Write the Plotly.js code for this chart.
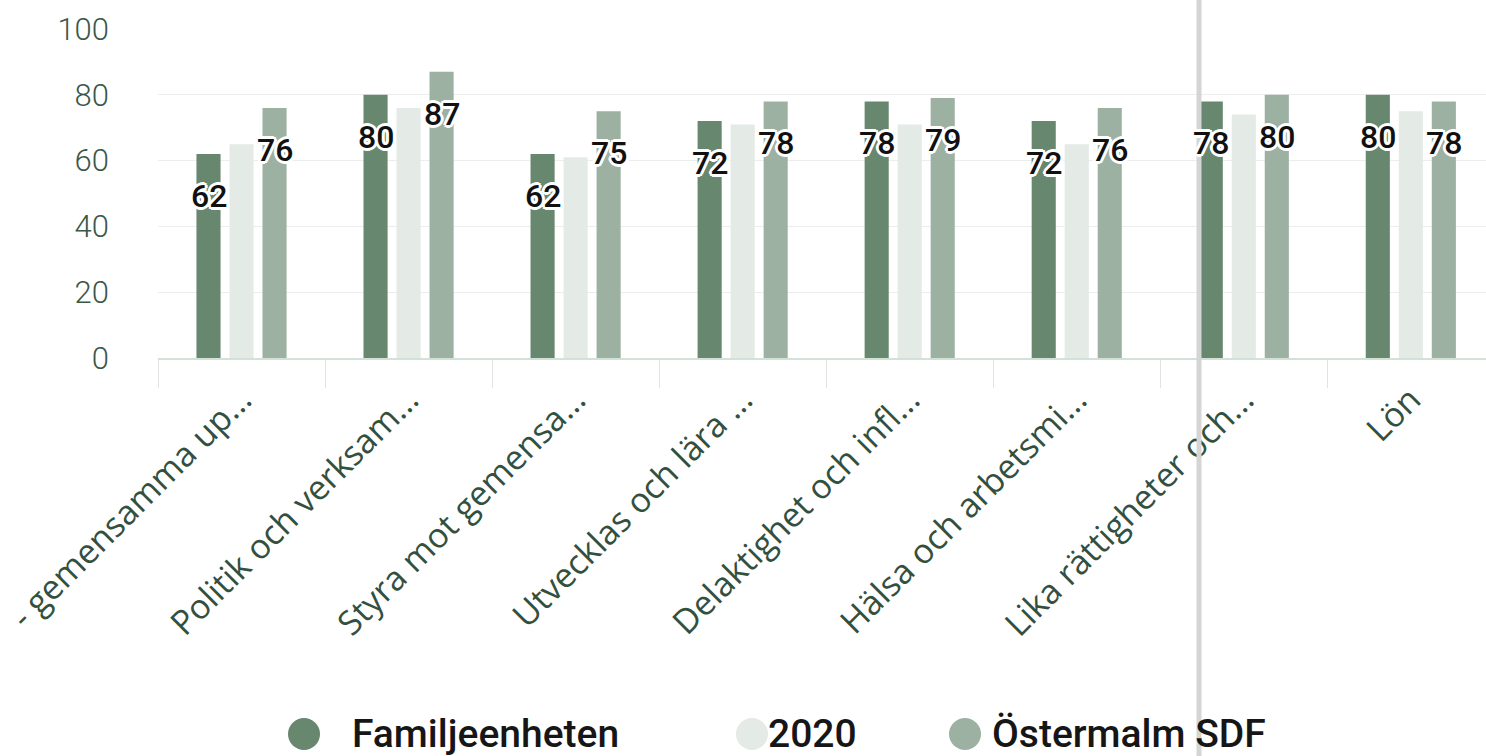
<!DOCTYPE html>
<html>
<head>
<meta charset="utf-8">
<script src="https://cdn.plot.ly/plotly-3.0.1.min.js"></script>
<style>html,body{margin:0;padding:0;background:#fff;}#chart{width:1486px;height:756px;}</style>
</head>
<body>
<div id="chart"></div>
<script>
const categories = ["- gemensamma up...", "Politik och verksam...", "Styra mot gemensa...", "Utvecklas och lära ...", "Delaktighet och infl...", "Hälsa och arbetsmi...", "Lika rättigheter och...", "Lön"];
const familjeenheten = [62, 80, 62, 72, 78, 72, 78, 80];
const year2020 = [65, 76, 61, 71, 71, 65, 74, 75];
const ostermalmSDF = [76, 87, 75, 78, 79, 76, 80, 78];
const seriesNames = ["Familjeenheten", "2020", "Östermalm SDF"];
const yTicks = [0, 20, 40, 60, 80, 100];

const colors = ["#67876f", "#e4eae5", "#9db1a3"];
const W = 1486, H = 756;
const M = {l: 158, r: 0, t: 29, b: 398};
const plotW = W - M.l - M.r, plotH = H - M.t - M.b;
const xRange = [-0.5, 7.45];
const bargap = 0.407, bargroupgap = 0.27;
const slot = plotW / (xRange[1] - xRange[0]) * (1 - bargap) / 3;

const series = [familjeenheten, year2020, ostermalmSDF];
const traces = series.map((vals, s) => ({
  type: "bar", x: categories, y: vals, name: seriesNames[s],
  marker: {color: colors[s], line: {width: 0}},
  showlegend: false, hoverinfo: "skip"
}));

const halo = "2px 2px 0 #fff, -2px -2px 0 #fff, 2px -2px 0 #fff, -2px 2px 0 #fff, 0 2px 0 #fff, 0 -2px 0 #fff, 2px 0 0 #fff, -2px 0 0 #fff, 3px 0 0 #fff, -3px 0 0 #fff, 0 3px 0 #fff, 0 -3px 0 #fff";
const annotations = [];
[0, 2].forEach(s => {
  series[s].forEach((v, i) => {
    annotations.push({
      x: categories[i], y: v, xref: "x", yref: "y", text: String(v), showarrow: false,
      xshift: (s - 1) * slot, yshift: -42, xanchor: "center", yanchor: "middle",
      font: {family: "Roboto", size: 32, color: "#111111", weight: 500, shadow: halo}
    });
  });
});

// legend (px -> paper helpers)
const px = x => (x - M.l) / plotW;
const py = y => (M.t + plotH - y) / plotH;
const legendCircleX = [304, 752, 965];
const legendTextX = [350, 766, 990];
const legendY = 734;
const shapes = [];
seriesNames.forEach((n, k) => {
  shapes.push({type: "circle", xref: "paper", yref: "paper", xsizemode: "pixel", ysizemode: "pixel",
    xanchor: px(legendCircleX[k]), yanchor: py(legendY), x0: -16, x1: 16, y0: -16, y1: 16,
    fillcolor: colors[k], line: {width: 0}, layer: "above"});
  annotations.push({xref: "paper", yref: "paper", x: px(legendTextX[k]), y: py(legendY),
    xanchor: "left", yanchor: "middle", showarrow: false, text: n,
    font: {family: "Roboto", size: 39, color: "#161616", weight: 500}});
});
// scan fold line
shapes.push({type: "line", xref: "paper", yref: "paper", x0: px(1199), x1: px(1199), y0: py(H), y1: py(0),
  line: {color: "#d4d6d5", width: 5}, layer: "above"});

const layout = {
  width: W, height: H, margin: M,
  paper_bgcolor: "#ffffff", plot_bgcolor: "#ffffff",
  barmode: "group", bargap: bargap, bargroupgap: bargroupgap,
  showlegend: false,
  xaxis: {type: "category", range: xRange, automargin: false, showgrid: false,
    showline: true, linecolor: "#d2e2d6", linewidth: 2,
    ticks: "outside", tickson: "boundaries", ticklen: 28, tickwidth: 1, tickcolor: "#e2e4e3",
    ticklabelstandoff: 6,
    tickangle: -45, tickfont: {family: "Open Sans", size: 34, color: "#33503f"}},
  yaxis: {range: [0, 100], tickvals: yTicks, automargin: false, zeroline: false,
    gridcolor: "#eceeed", gridwidth: 1, ticks: "", ticklabelstandoff: 48,
    tickfont: {family: "Roboto", size: 31, color: "#3b5749", weight: 300}},
  annotations: annotations, shapes: shapes
};
Plotly.newPlot("chart", traces, layout, {staticPlot: true, displayModeBar: false});
</script>
</body>
</html>
